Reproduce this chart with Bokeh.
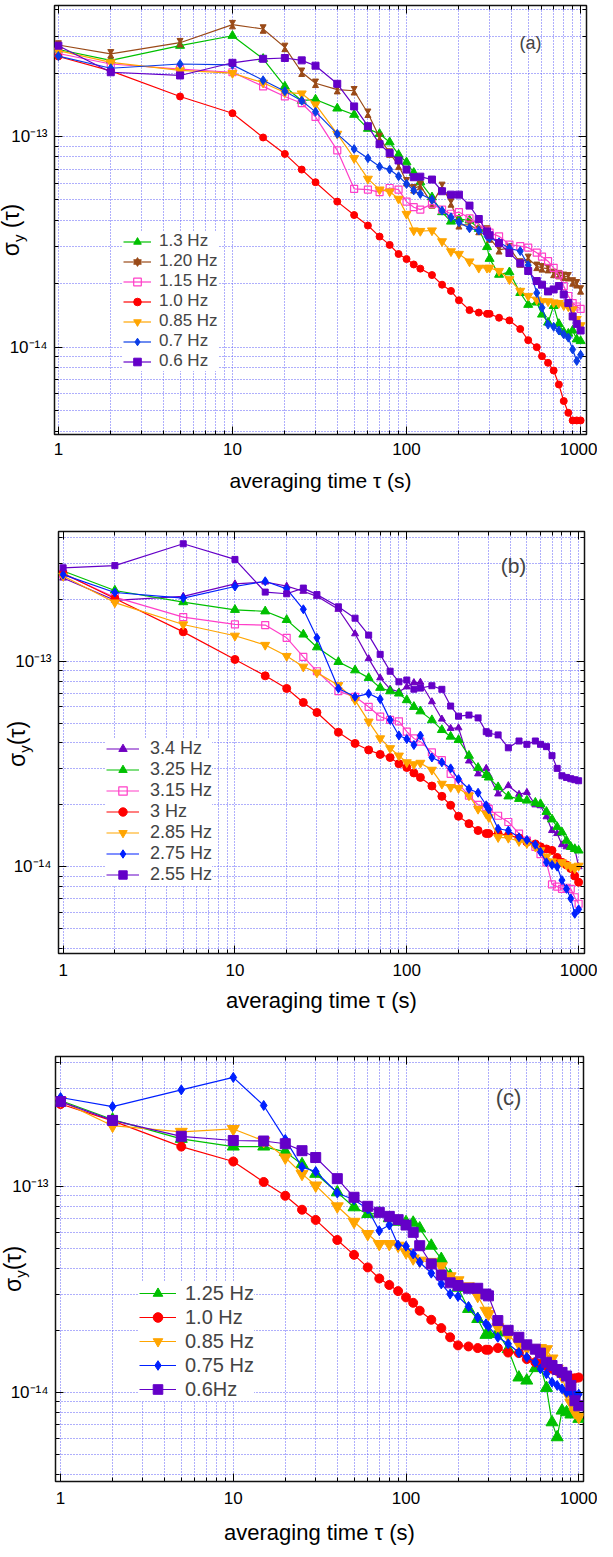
import math
from bokeh.plotting import figure
from bokeh.models import (Range1d, FixedTicker, CustomJSTickFormatter, LogAxis,
                          Legend, LegendItem, Label, ColumnDataSource, Div)
from bokeh.layouts import column, row
from bokeh.embed import file_html
from bokeh.resources import INLINE

# ---------------- data (sigma_y in units of 1e-14) ----------------
TAU = [1, 2, 5, 10, 15, 20, 25, 30, 40, 50, 60, 70, 80, 90, 100, 110, 120, 140, 160, 180,
       200, 230, 260, 290, 300, 340, 390, 450, 500, 560, 600, 650, 700, 750, 800, 850, 900, 950, 1000]
UNIT = 1e-14

# panel (a)
A_13 = [25.9, 23.0, 27.0, 30.1, 23.4, 17.3, 14.8, 15.0, 13.6, 12.7, 10.9, 10.3, 9.4, 8.2, 7.55, 6.73, 6.07, 5.15, 4.38, 3.95,
        4.06, 4.0, 3.65, 2.99, 2.63, 2.21, 2.27, 1.81, 1.59, 1.63, 1.43, 1.31, 1.57, 1.29, 1.18, 1.16, 1.2, 1.09, 1.07]
A_120 = [27.2, 24.7, 27.9, 34.0, 32.4, 26.5, 20.2, 17.9, 16.7, 16.5, 12.9, 9.9, 8.35, 7.3, 6.1, 5.65, 5.85, 4.79, 5.8, 4.84,
         3.81, 3.81, 3.58, 3.6, 3.3, 2.9, 2.96, 2.51, 2.64, 2.42, 2.38, 2.36, 2.24, 2.21, 2.17, 2.16, 2.04, 2.0, 1.87]
A_115 = [24.8, 22.1, 20.9, 20.2, 17.3, 15.5, 14.4, 12.4, 8.6, 5.65, 5.6, 5.45, 5.7, 5.6, 4.91, 4.62, 4.5, 4.79, 4.5, 4.3,
         4.38, 4.09, 3.81, 3.58, 3.5, 3.36, 3.07, 3.02, 2.97, 2.81, 2.69, 2.56, 2.38, 2.21, 1.95, 1.75, 1.62, 1.56, 1.52]
A_10 = [24.0, 20.5, 15.5, 12.9, 9.9, 8.27, 6.97, 6.07, 4.91, 4.24, 3.78, 3.35, 3.06, 2.77, 2.62, 2.47, 2.36, 2.20, 1.98, 1.85,
        1.67, 1.50, 1.46, 1.44, 1.44, 1.38, 1.34, 1.22, 1.08, 1.0, 0.906, 0.843, 0.775, 0.665, 0.555, 0.488, 0.449, 0.449, 0.449]
A_085 = [25.6, 22.5, 20.6, 20.0, 18.0, 16.2, 16.0, 14.2, 10.3, 7.89, 6.3, 5.6, 5.48, 5.06, 4.29, 3.58, 3.56, 3.58, 3.18, 2.85,
         2.77, 2.55, 2.38, 2.38, 2.38, 2.30, 2.10, 1.85, 1.75, 1.68, 1.65, 1.65, 1.63, 1.62, 1.58, 1.56, 1.51, 1.36, 1.27]
A_07 = [24.1, 21.1, 22.1, 21.9, 18.5, 16.4, 14.8, 13.1, 10.3, 8.73, 7.89, 7.2, 6.97, 6.48, 5.96, 5.55, 5.34, 5.02, 4.45, 4.14,
        3.92, 3.67, 3.58, 3.36, 3.3, 3.15, 2.95, 2.86, 2.45, 1.81, 1.54, 1.28, 1.25, 1.20, 1.15, 1.11, 0.975, 0.86, 0.92]
A_06 = [27.0, 20.2, 19.5, 22.4, 23.4, 23.6, 23.0, 21.7, 17.8, 13.9, 11.2, 9.2, 8.35, 7.7, 6.97, 6.41, 6.45, 6.25, 5.5, 5.3,
        5.3, 4.7, 4.06, 3.54, 3.4, 3.12, 2.8, 2.5, 2.3, 2.06, 1.98, 1.84, 1.88, 1.95, 1.78, 1.62, 1.40, 1.29, 1.20]

# panel (b)
B_34 = [25.4, 19.8, 20.7, 23.8, 24.3, 23.2, 21.9, 20.7, 17.9, 13.6, 10.3, 8.3, 7.31, 7.1, 7.5, 7.87, 7.9, 6.35, 5.23, 4.71,
        4.74, 3.27, 2.83, 3.01, 2.78, 2.26, 2.48, 2.25, 2.3, 2.0, 1.98, 1.75, 1.5, 1.45, 1.28, 1.25, 1.24, 1.22, 1.0]
B_325 = [27.5, 22.1, 19.4, 17.8, 17.5, 15.9, 13.5, 11.7, 9.93, 9.04, 8.3, 7.43, 7.15, 6.97, 6.47, 6.0, 5.71, 5.17, 4.63, 4.3,
         4.14, 3.47, 3.03, 2.8, 2.72, 2.44, 2.2, 2.14, 2.1, 2.05, 2.02, 1.85, 1.7, 1.56, 1.47, 1.34, 1.25, 1.22, 1.2]
B_315 = [26.6, 20.5, 16.4, 15.1, 15.0, 13.0, 10.5, 8.94, 7.15, 6.71, 6.0, 5.37, 5.18, 5.1, 4.54, 4.21, 4.06, 3.6, 3.3, 2.83,
         2.53, 2.22, 2.0, 1.95, 1.91, 1.77, 1.65, 1.45, 1.34, 1.25, 1.15, 1.05, 0.82, 0.80, 0.78, 0.79, 0.78, 0.71, 0.66]
B_3 = [26.8, 20.2, 13.9, 10.2, 8.49, 7.37, 6.3, 5.63, 4.51, 3.98, 3.7, 3.52, 3.4, 3.17, 3.04, 2.86, 2.72, 2.47, 2.2, 1.99,
       1.76, 1.62, 1.5, 1.45, 1.45, 1.45, 1.42, 1.38, 1.32, 1.29, 1.25, 1.22, 1.2, 1.11, 1.05, 1.02, 0.98, 0.9, 0.84]
B_285 = [26.0, 19.3, 15.1, 13.3, 12.0, 10.6, 9.4, 8.8, 7.64, 6.47, 5.08, 4.21, 3.77, 3.47, 3.22, 3.15, 3.2, 2.96, 2.53, 2.44,
         2.41, 2.22, 1.91, 1.81, 1.74, 1.39, 1.38, 1.33, 1.3, 1.25, 1.2, 1.12, 1.06, 1.02, 1.05, 1.02, 1.0, 0.98, 1.01]
B_275 = [26.4, 21.6, 20.3, 23.1, 24.5, 22.5, 17.9, 13.0, 7.37, 6.71, 6.96, 6.54, 5.18, 4.35, 4.18, 3.91, 4.35, 3.4, 3.22, 3.01,
         2.67, 2.39, 2.29, 1.99, 1.9, 1.53, 1.5, 1.39, 1.35, 1.28, 1.18, 1.05, 1.02, 1.0, 0.86, 0.78, 0.70, 0.59, 0.62]
B_255 = [28.5, 29.2, 37.3, 31.3, 21.7, 21.3, 22.7, 21.1, 18.4, 16.2, 13.4, 10.8, 8.94, 7.94, 8.1, 7.31, 7.4, 7.6, 7.3, 6.05,
         5.4, 5.47, 5.3, 4.54, 4.46, 4.38, 3.79, 4.09, 3.94, 4.09, 3.94, 3.84, 3.47, 3.01, 2.77, 2.72, 2.68, 2.65, 2.62]

# panel (c)
C_125 = [26.1, 21.1, 17.0, 15.6, 15.6, 14.7, 12.8, 11.5, 9.35, 7.91, 7.34, 7.4, 7.0, 6.73, 6.7, 6.66, 6.25, 5.15, 4.44, 3.68,
         3.22, 2.54, 2.27, 1.9, 1.92, 1.95, 1.62, 1.18, 1.14, 1.31, 1.35, 1.05, 0.715, 0.605, 0.815, 0.80, 0.78, 0.80, 0.743]
C_10 = [25.1, 20.8, 15.6, 13.2, 10.5, 9.0, 7.7, 6.87, 5.49, 4.65, 4.04, 3.57, 3.32, 3.1, 2.89, 2.72, 2.49, 2.25, 2.05, 1.85,
        1.69, 1.67, 1.64, 1.61, 1.61, 1.64, 1.56, 1.55, 1.45, 1.4, 1.37, 1.34, 1.3, 1.27, 1.25, 1.2, 1.17, 1.17, 1.18]
C_085 = [26.0, 19.7, 18.4, 19.0, 16.6, 13.8, 11.5, 10.1, 8.0, 6.73, 5.87, 5.25, 5.25, 5.15, 4.79, 4.47, 4.36, 4.3, 4.09, 3.66,
         3.5, 3.27, 2.94, 2.49, 2.4, 2.07, 1.88, 1.72, 1.64, 1.64, 1.64, 1.62, 1.46, 1.3, 1.2, 1.0, 0.89, 0.80, 0.76]
C_075 = [27.0, 24.4, 29.4, 33.8, 24.7, 16.9, 12.4, 11.8, 9.28, 8.61, 7.76, 6.09, 6.49, 5.19, 5.12, 4.7, 4.28, 3.79, 3.36, 3.0,
         2.92, 2.61, 2.31, 2.15, 2.09, 1.85, 1.72, 1.56, 1.48, 1.4, 1.3, 1.23, 1.12, 1.08, 1.04, 1.0, 0.99, 0.98, 0.98]
C_06 = [25.8, 20.9, 17.5, 16.7, 16.6, 16.1, 14.9, 13.8, 10.9, 8.85, 8.0, 7.48, 7.15, 6.89, 6.49, 5.98, 5.15, 4.2, 3.71, 3.4,
        3.3, 3.2, 3.2, 3.0, 2.94, 2.23, 2.0, 1.85, 1.7, 1.62, 1.55, 1.4, 1.35, 1.29, 1.25, 1.2, 1.08, 0.91, 0.86]

XTICKS = [1, 10, 100, 1000]
XMINOR = [2, 3, 4, 5, 6, 7, 8, 9, 20, 30, 40, 50, 60, 70, 80, 90, 200, 300, 400, 500, 600, 700, 800, 900]
YTICKS = [1e-14, 1e-13]
YMINOR = [4e-15, 5e-15, 6e-15, 7e-15, 8e-15, 9e-15,
          2e-14, 3e-14, 4e-14, 5e-14, 6e-14, 7e-14, 8e-14, 9e-14,
          2e-13, 3e-13, 4e-13]
X_LABEL = "averaging time τ (s)"

# ---------------- styling ----------------
FONT = "Liberation Sans"
GREEN, BROWN, PINK, RED = "#00c000", "#9a4a18", "#ff3fc8", "#ff0000"
ORANGE, BLUE, PURPLE = "#ffa500", "#0a3de6", "#6400c8"
GRIDC = "#5e5ef8"

EXP_JS = """
const sup = {"-": "\u207b", "0": "\u2070", "1": "\u00b9", "2": "\u00b2", "3": "\u00b3",
             "4": "\u2074", "5": "\u2075", "6": "\u2076", "7": "\u2077", "8": "\u2078", "9": "\u2079"};
const e = Math.round(Math.log10(tick));
let s = "";
for (const c of String(e)) { s += sup[c]; }
return "10" + s;
"""


def build(series, xr, yr, fw, fh, borders, st):
    p = figure(x_axis_type="log", y_axis_type="log",
               x_range=Range1d(*xr), y_range=Range1d(*yr),
               frame_width=fw, frame_height=fh,
               min_border_left=borders[0], min_border_top=borders[1],
               min_border_right=borders[2], min_border_bottom=borders[3],
               output_backend="svg", toolbar_location=None)
    p.border_fill_alpha = 0.0
    p.outline_line_color = "#111111"
    p.outline_line_width = 1.5
    xa, ya = p.xaxis[0], p.yaxis[0]
    xt = FixedTicker(ticks=XTICKS, minor_ticks=XMINOR)
    yt = FixedTicker(ticks=YTICKS, minor_ticks=YMINOR)
    xa.ticker = xt
    ya.ticker = yt
    xa.formatter = CustomJSTickFormatter(code="return String(Math.round(tick));")
    ya.formatter = CustomJSTickFormatter(code=EXP_JS)
    for ax in (xa, ya):
        ax.major_tick_in = 8
        ax.major_tick_out = 0
        ax.minor_tick_in = 4
        ax.minor_tick_out = 0
        ax.axis_line_color = None
        ax.major_tick_line_color = "black"
        ax.minor_tick_line_color = "black"
        ax.major_label_text_font = FONT
        ax.major_label_text_font_size = st["tick"]
        ax.major_label_text_color = "black"
    xa.major_label_standoff = st["xstand"]
    ya.major_label_standoff = 7
    xa.axis_label = X_LABEL
    xa.axis_label_text_font = FONT
    xa.axis_label_text_font_size = st["title"]
    xa.axis_label_text_font_style = "normal"
    xa.axis_label_text_color = "black"
    xa.axis_label_standoff = st["lstand"]

    for place, tk in (("above", xt), ("right", yt)):
        ax = LogAxis(ticker=tk, formatter=CustomJSTickFormatter(code="return '';"),
                     major_tick_in=8, major_tick_out=0, minor_tick_in=4, minor_tick_out=0,
                     major_label_standoff=0, major_label_text_font_size="0px",
                     axis_line_color=None, major_tick_line_color="black",
                     minor_tick_line_color="black")
        p.add_layout(ax, place)

    for g in (p.xgrid[0], p.ygrid[0]):
        g.grid_line_color = GRIDC
        g.grid_line_dash = "1 2"
        g.grid_line_alpha = 1.0
        g.minor_grid_line_color = GRIDC
        g.minor_grid_line_dash = "1 2"
        g.minor_grid_line_alpha = 1.0

    items = []
    for name, vals, color, marker, size, filled in series:
        ys = [v * UNIT for v in vals]
        src = ColumnDataSource(dict(x=TAU, y=ys))
        rl = p.line("x", "y", source=src, line_color=color, line_width=1.2)
        rends = [rl]
        if marker == "hourglass":
            k = 10 ** (size * 0.42 / st["decade"])
            s_top = ColumnDataSource(dict(x=TAU, y=[v * k for v in ys]))
            s_bot = ColumnDataSource(dict(x=TAU, y=[v / k for v in ys]))
            r1 = p.scatter("x", "y", source=s_top, marker="inverted_triangle", size=size,
                           fill_color=color, line_color=color)
            r2 = p.scatter("x", "y", source=s_bot, marker="triangle", size=size,
                           fill_color=color, line_color=color)
            rends += [r1, r2]
        else:
            rs = p.scatter("x", "y", source=src, marker=marker, size=size,
                           fill_color=color if filled else None,
                           line_color=color, line_width=1.2 if not filled else 1)
            rends.append(rs)
        items.append(LegendItem(label=name, renderers=rends))

    leg = Legend(items=items, location=st["legloc"], orientation="vertical",
                 background_fill_color="white", background_fill_alpha=1.0,
                 border_line_color=None, padding=4, spacing=0, margin=0,
                 glyph_width=st["gw"], glyph_height=st["rowh"], label_height=st["rowh"],
                 label_standoff=st["lstd"], label_text_font=FONT,
                 label_text_font_size=st["legfont"], label_text_baseline="middle")
    p.add_layout(leg)

    p.add_layout(Label(x=st["tag"][0], y=st["tag"][1], x_units="screen", y_units="screen",
                       text=st["tag"][2], text_font=FONT, text_font_size=st["tagfont"],
                       text_align="center", text_baseline="middle"))

    # y axis label sigma_y(tau) as an HTML overlay (real subscript)
    H = borders[1] + fh + borders[3]
    DW = 34
    cx, cy = st["ylab"]
    html = (
        f'<div style="position:relative;width:{DW}px;height:{H}px;">'
        f'<span style="position:absolute;left:{cx}px;top:{cy}px;'
        f'transform:translate(-50%,-50%) rotate(-90deg);white-space:nowrap;'
        f"font-family:'Liberation Sans';font-size:23px;color:#000;line-height:1;\">"
        f'σ<sub style="font-size:15px;">y</sub>{st["ysep"]}(τ)</span></div>'
    )
    div = Div(text=html, width=DW, height=H, margin=(0, -DW, 0, 0),
              styles={"position": "relative", "z-index": "10"})
    return row(div, p)


SER_A = [("1.3 Hz", A_13, GREEN, "triangle", 9, True),
         ("1.20 Hz", A_120, BROWN, "hourglass", 6, True),
         ("1.15 Hz", A_115, PINK, "square", 7, False),
         ("1.0 Hz", A_10, RED, "circle", 7, True),
         ("0.85 Hz", A_085, ORANGE, "inverted_triangle", 9, True),
         ("0.7 Hz", A_07, BLUE, "diamond", 9, True),
         ("0.6 Hz", A_06, PURPLE, "square", 7, True)]

SER_B = [("3.4 Hz", B_34, "#7000c0", "triangle", 7, True),
         ("3.25 Hz", B_325, GREEN, "triangle", 9, True),
         ("3.15 Hz", B_315, PINK, "square", 7, False),
         ("3 Hz", B_3, RED, "circle", 8, True),
         ("2.85 Hz", B_285, ORANGE, "inverted_triangle", 9, True),
         ("2.75 Hz", B_275, "#0020ff", "diamond", 9, True),
         ("2.55 Hz", B_255, PURPLE, "square", 6, True)]

SER_C = [("1.25 Hz", C_125, GREEN, "triangle", 12, True),
         ("1.0 Hz", C_10, RED, "circle", 9, True),
         ("0.85 Hz", C_085, ORANGE, "inverted_triangle", 12, True),
         ("0.75 Hz", C_075, "#0020ff", "diamond", 10, True),
         ("0.6Hz", C_06, PURPLE, "square", 10, True)]

ST_A = dict(tick="17px", title="21px", xstand=8, lstand=11, decade=210.7,
            legloc=(69, 63), gw=28, rowh=19, lstd=8, legfont="17px",
            tag=(476, 392, "(a)"), tagfont="18px", ylab=(13, 230), ysep=" ")
ST_B = dict(tick="17px", title="22px", xstand=10, lstand=9, decade=206,
            legloc=(48, 68), gw=33, rowh=21, lstd=11, legfont="18px",
            tag=(455, 388, "(b)"), tagfont="21px", ylab=(19, 238), ysep="")
ST_C = dict(tick="17px", title="22px", xstand=10, lstand=13, decade=206,
            legloc=(84, 80), gw=37, rowh=24, lstd=9, legfont="20px",
            tag=(453, 384, "(c)"), tagfont="22px", ylab=(15, 239), ysep="")

ra = build(SER_A, (0.95, 1081), (3.85e-15, 4.19e-13), 532, 429, (54, 5, 11, 72), ST_A)
rb = build(SER_B, (0.94, 1082), (3.78e-15, 4.28e-13), 526, 422, (58, 25, 13, 77), ST_B)
rc = build(SER_C, (0.935, 1065), (3.69e-15, 4.27e-13), 528, 425, (55, 26, 14, 60), ST_C)

layout = column(ra, rb, rc)
with open("out.html", "w", encoding="utf-8") as f:
    f.write(file_html(layout, INLINE))
